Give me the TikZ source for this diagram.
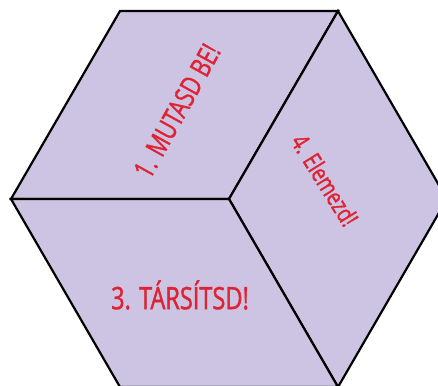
\documentclass[tikz,border=0pt]{standalone}
\usepackage{fontspec}
\newfontfamily\cubefont[FakeStretch=0.76, FakeBold=1.2]{Open Sans}
\usetikzlibrary{calc}

\definecolor{facefill}{RGB}{204,196,226}
\definecolor{labelred}{RGB}{222,35,52}

\begin{document}
\begin{tikzpicture}[x=1pt, y=-1pt,
    % --- STYLES ---
    face/.style={fill=facefill, draw=black, line width=2.2pt, line join=miter},
    facetext/.style={text=labelred, inner sep=0pt, font=\cubefont\fontsize{#1}{#1}\selectfont},
    facetext/.default=24
]

    % ==========================================
    % FRAME (picture is cut at right and bottom)
    % ==========================================
    \useasboundingbox (0,0) rectangle (438,385);
    \clip (0,0) rectangle (438,385);

    % Hexagon corners and centre
    \coordinate (ctr) at (229,199);
    \coordinate (left) at (11,199);
    \coordinate (topleft) at (120,11);
    \coordinate (topright) at (338,11);
    \coordinate (right) at (447,199);
    \coordinate (botright) at (338,387);
    \coordinate (botleft) at (120,387);

    % ==========================================
    % FACES
    % ==========================================
    \draw[face] (left) -- (topleft) -- (topright) -- (ctr) -- cycle;
    \draw[face] (ctr) -- (topright) -- (right) -- (botright) -- cycle;
    \draw[face] (left) -- (ctr) -- (botright) -- (botleft) -- cycle;

    % Face labels
    \node[facetext=28, rotate=61] (show) at (177,111) {1. MUTASD BE!};
    \node[facetext=25, rotate=-58] (analyse) at (325,180) {4. Elemezd!};
    \node[facetext=31] (relate) at (180,295) {3. TÁRSÍTSD!};

\end{tikzpicture}
\end{document}
